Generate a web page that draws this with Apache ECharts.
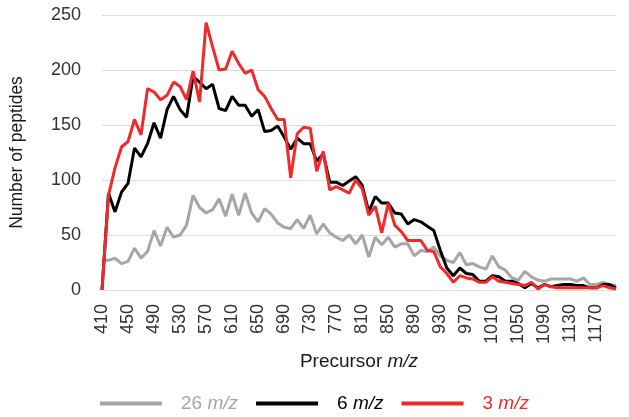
<!DOCTYPE html>
<html>
<head>
<meta charset="utf-8">
<script src="https://cdn.jsdelivr.net/npm/echarts@6/dist/echarts.min.js"></script>
<style>
html,body{margin:0;padding:0;background:#fff;}
#chart{width:629px;height:417px;}
</style>
</head>
<body>
<div id="chart"></div>
<script>
// Precursor m/z categories 410..1200 step 10
const categories = [];
for (let v = 410; v <= 1200; v += 10) categories.push(String(v));

const seriesNames = ['26 m/z', '6 m/z', '3 m/z'];

const gray26 = [27,27,29,24,26,38,29,35,54,40,57,48,50,59,86,75,70,73,83,67,
  87,68,88,70,62,74,69,61,57,56,64,56,68,51,60,52,48,45,50,42,
  50,30,48,41,48,39,42,42,31,36,35,39,31,27,25,34,23,24,21,19,
  31,21,18,11,9,17,12,9,8,10,10,10,10,8,11,5,5,7,5,4];

const black6 = [0,88,71,89,97,129,121,133,152,138,164,176,164,157,194,189,183,187,165,163,
  176,168,168,158,164,144,145,149,139,128,138,133,133,117,124,98,98,95,99,103,
  95,71,85,79,79,70,69,60,64,62,58,54,36,20,13,20,15,14,8,8,
  13,12,8,8,6,2,6,2,5,3,4,5,5,4,4,2,2,5,5,2];

const red3 = [0,86,111,130,135,155,141,183,180,173,177,189,185,173,199,171,243,221,200,201,
  217,206,197,200,182,176,165,155,155,102,142,148,147,108,126,91,94,91,88,100,
  92,68,76,52,79,59,53,45,45,45,36,35,21,15,7,13,11,10,7,7,
  12,8,7,6,5,4,7,1,5,3,2,2,2,2,2,2,2,4,2,1];

const yTicks = {min: 0, max: 250, interval: 50};

const colors = ['#a6a6a6', '#000000', '#f02a2a'];
const font = 'Liberation Sans, Arial, sans-serif';

const chart = echarts.init(document.getElementById('chart'));
const mkSeries = (name, data, color) => ({
  name, type: 'line', data, showSymbol: false, symbol: 'none',
  lineStyle: {color, width: 3}, itemStyle: {color}, smooth: false, animation: false
});

chart.setOption({
  animation: false,
  textStyle: {fontFamily: font},
  grid: {left: 100, right: 13, top: 15, bottom: 127, containLabel: false},
  xAxis: {
    type: 'category', data: categories, boundaryGap: false,
    axisLine: {lineStyle: {color: '#dcdcdc'}},
    axisTick: {show: false},
    axisLabel: {rotate: 90, interval: 3, fontSize: 18, color: '#333333', margin: 14, fontFamily: font},
    name: '{a|Precursor }{b|m/z}',
    nameLocation: 'middle', nameGap: 61,
    nameTextStyle: {
      fontSize: 19, color: '#1a1a1a', fontFamily: font,
      rich: {a: {fontSize: 19, color: '#1a1a1a', fontFamily: font},
             b: {fontSize: 19, color: '#1a1a1a', fontStyle: 'italic', fontFamily: font}}
    }
  },
  yAxis: {
    type: 'value', min: yTicks.min, max: yTicks.max, interval: yTicks.interval,
    axisLine: {show: false}, axisTick: {show: false},
    splitLine: {lineStyle: {color: '#dcdcdc', width: 1}},
    axisLabel: {fontSize: 18, color: '#333333', margin: 21, fontFamily: font},
    name: 'Number of peptides', nameLocation: 'middle', nameGap: 76, nameRotate: 90,
    nameTextStyle: {fontSize: 17.5, color: '#1a1a1a', fontFamily: font}
  },
  legend: {
    top: 389, left: 'center', icon: 'rect', itemWidth: 62, itemHeight: 4, itemGap: 18,
    data: seriesNames.map((n, i) => ({
      name: n,
      textStyle: {color: colors[i], fontSize: 19, fontFamily: font, padding: [0, 0, 0, 14],
        rich: {i: {color: colors[i], fontSize: 19, fontStyle: 'italic', fontFamily: font}}}
    })),
    formatter: (name) => name.replace(' m/z', ' {i|m/z}'),
    textStyle: {fontSize: 19, fontFamily: font}
  },
  series: [
    mkSeries(seriesNames[0], gray26, colors[0]),
    mkSeries(seriesNames[1], black6, colors[1]),
    mkSeries(seriesNames[2], red3, colors[2])
  ]
});
</script>
</body>
</html>
